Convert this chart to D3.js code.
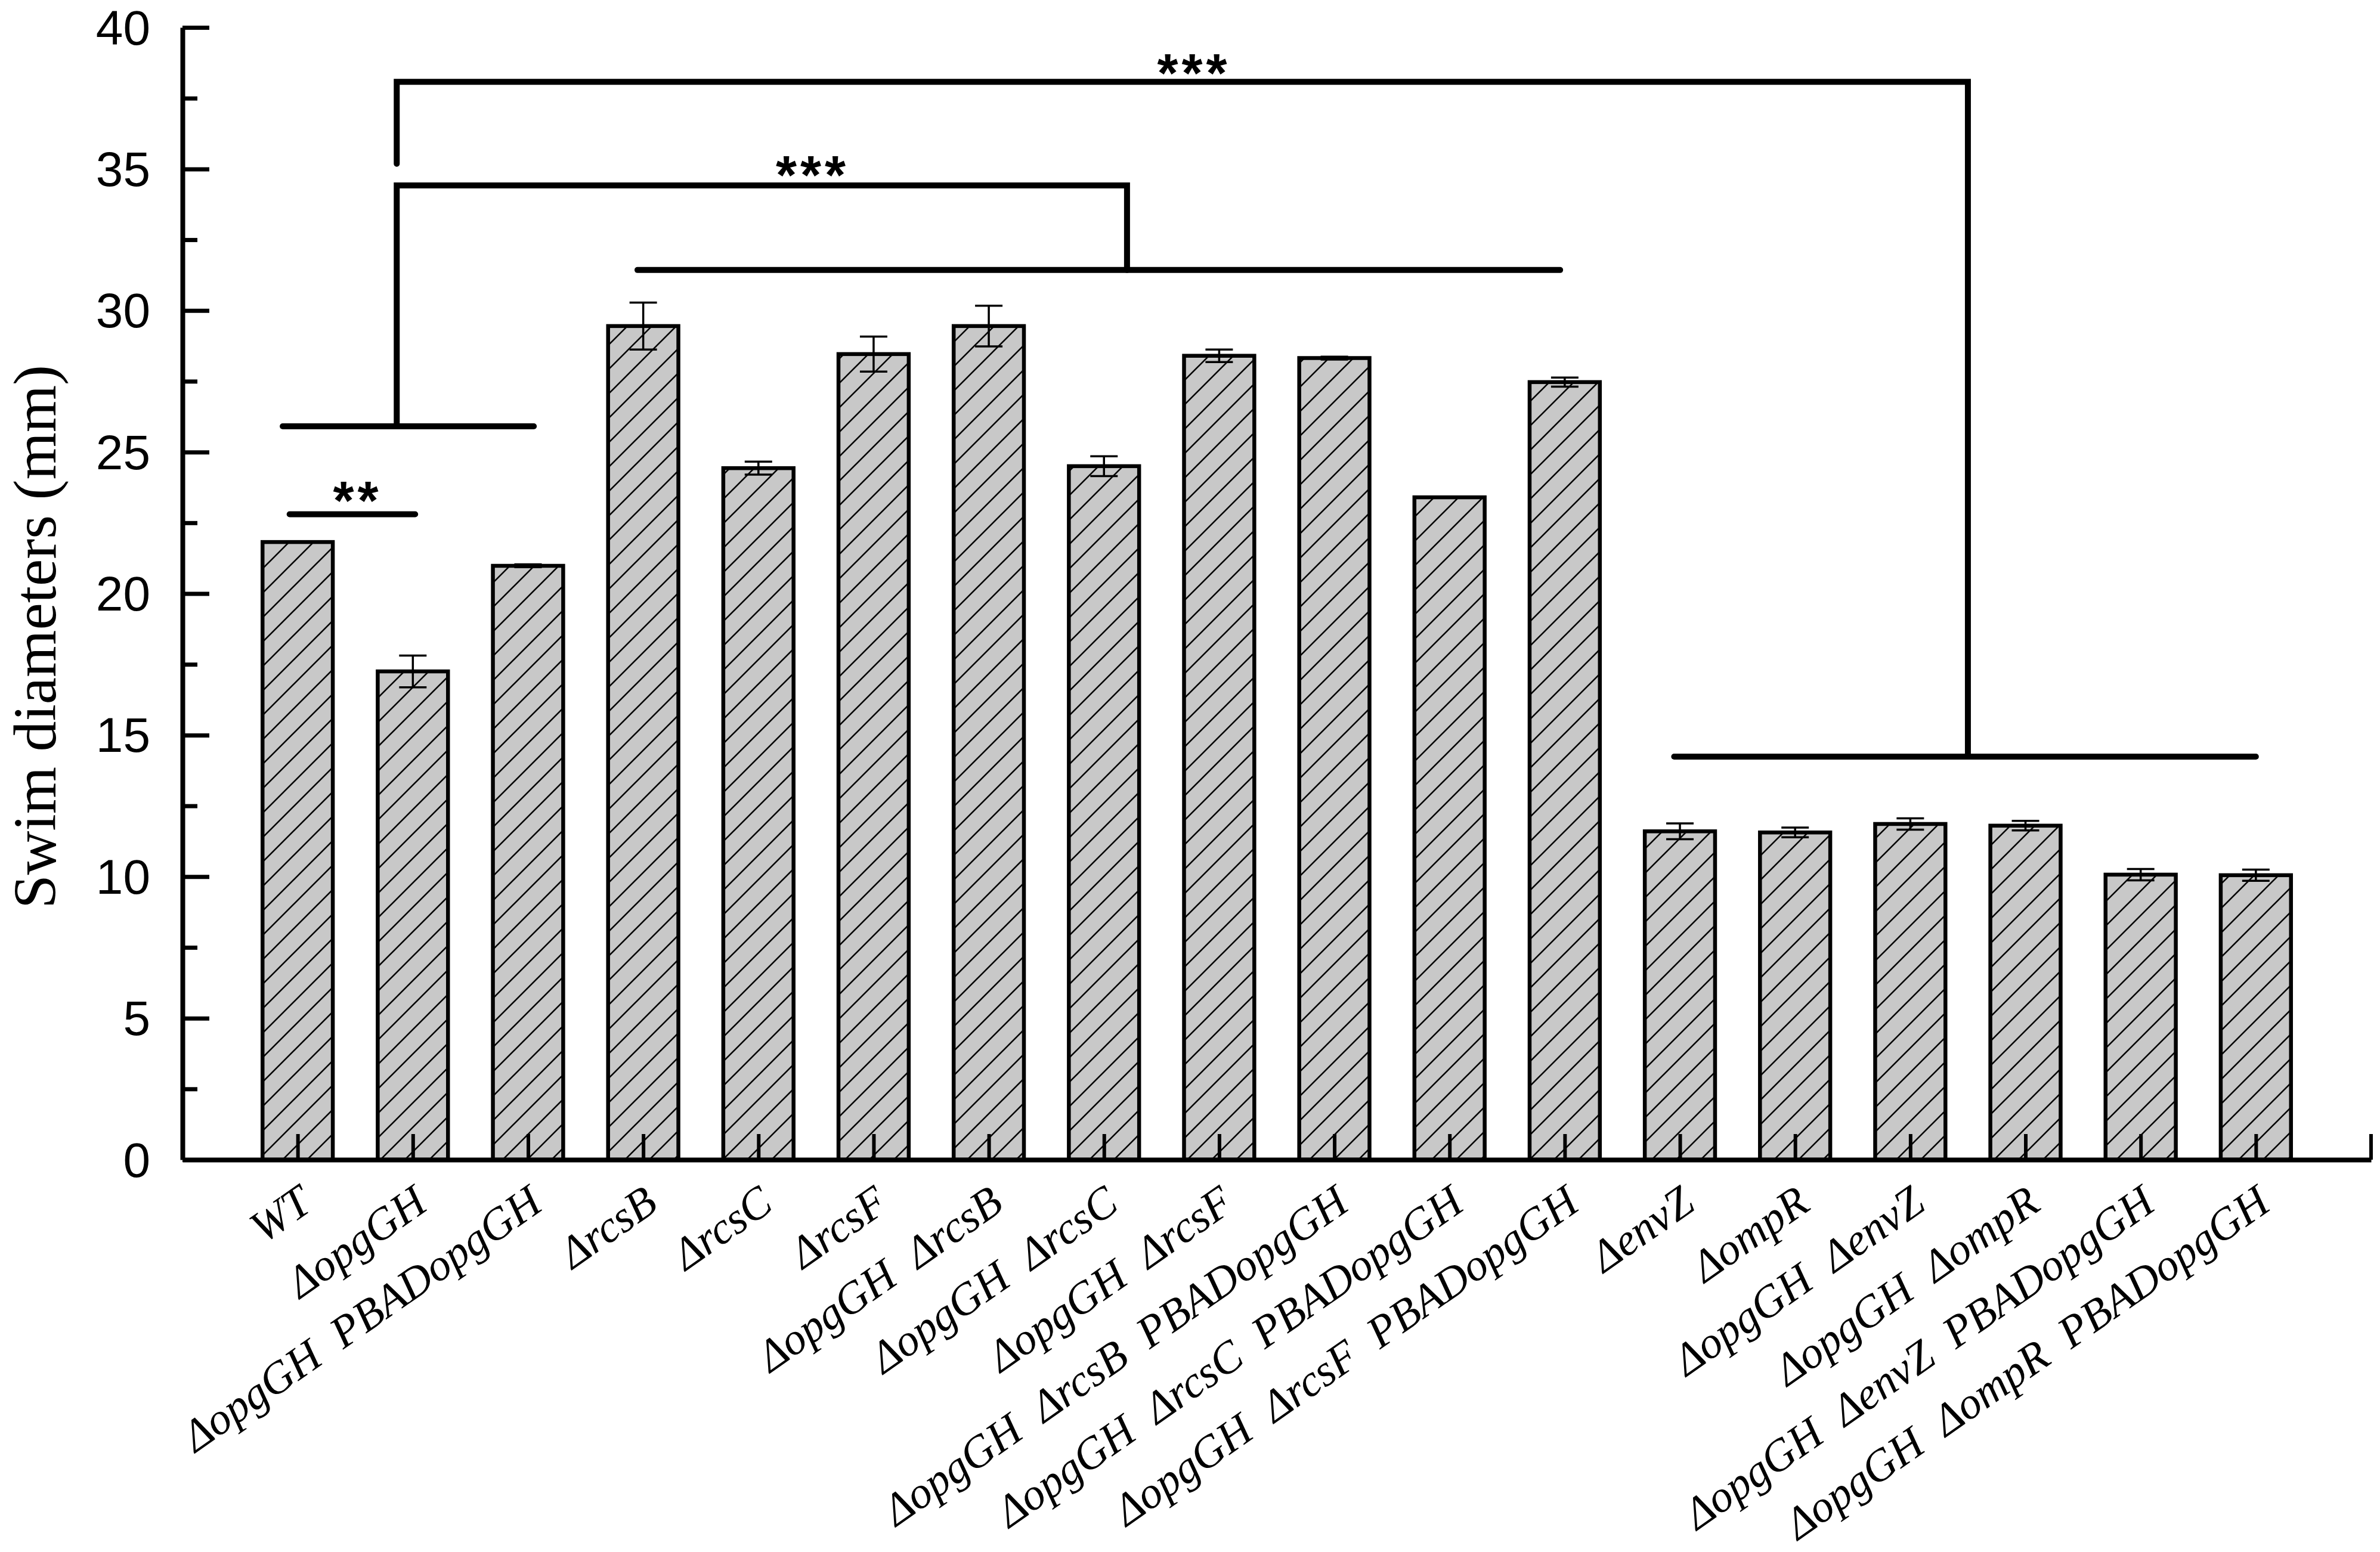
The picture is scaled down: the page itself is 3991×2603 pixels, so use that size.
<!DOCTYPE html>
<html>
<head>
<meta charset="utf-8">
<script src="https://cdn.jsdelivr.net/npm/d3@7/dist/d3.min.js"></script>
<style>
  html, body { margin: 0; padding: 0; background: #fff; }
  svg { display: block; }
</style>
</head>
<body>
<div id="chart"></div>
<script>
// strains along the x axis
var categories = [
    "WT", "ΔopgGH", "ΔopgGH  PBADopgGH",
    "ΔrcsB", "ΔrcsC", "ΔrcsF",
    "ΔopgGH  ΔrcsB", "ΔopgGH  ΔrcsC", "ΔopgGH  ΔrcsF",
    "ΔopgGH  ΔrcsB  PBADopgGH", "ΔopgGH  ΔrcsC  PBADopgGH", "ΔopgGH  ΔrcsF  PBADopgGH",
    "ΔenvZ", "ΔompR", "ΔopgGH  ΔenvZ", "ΔopgGH  ΔompR",
    "ΔopgGH  ΔenvZ  PBADopgGH", "ΔopgGH  ΔompR  PBADopgGH"
];
// swim diameters (mm)
var values = [21.82, 17.25, 20.98, 29.45, 24.43, 28.46, 29.45, 24.5, 28.4,
              28.32, 23.4, 27.47, 11.6, 11.56, 11.86, 11.8, 10.07, 10.05];
var errors = [0, 0.56, 0.05, 0.83, 0.23, 0.62, 0.72, 0.35, 0.22,
              0.05, 0, 0.16, 0.28, 0.17, 0.2, 0.17, 0.2, 0.2];
var yTicks = [0, 5, 10, 15, 20, 25, 30, 35, 40];
var yMinorTicks = [2.5, 7.5, 12.5, 17.5, 22.5, 27.5, 32.5, 37.5];

// significance brackets, x in bar-index units, y in mm
var sigLines = [
    // "**" WT vs opgGH
    [[-0.07, 22.8], [1.02, 22.8]],
    // group lines
    [[-0.13, 25.91], [2.05, 25.91]],
    [[2.95, 31.43], [10.96, 31.43]],
    [[11.95, 14.24], [17.0, 14.24]],
    // middle bracket
    [[0.86, 25.91], [0.86, 34.42], [7.2, 34.42], [7.2, 31.43]],
    // top bracket
    [[0.86, 35.18], [0.86, 38.08], [14.5, 38.08], [14.5, 14.24]]
];
var sigStars = [
    {text: "**", x: 0.52, y: 23.68},
    {text: "***", x: 4.47, y: 35.18},
    {text: "***", x: 7.78, y: 38.78}
];

var width = 3991;
var height = 2603;
var axisLeftX = 306;
var axisRightX = 3976;
var axisBottomY = 1945;
var axisTopY = 46;

var svg = d3.select("#chart").append("svg")
    .attr("width", width)
    .attr("height", height);

var defs = svg.append("defs");
var hatch = defs.append("pattern")
    .attr("id", "hatch")
    .attr("patternUnits", "userSpaceOnUse")
    .attr("width", 41)
    .attr("height", 41);
hatch.append("rect")
    .attr("width", 41).attr("height", 41)
    .attr("fill", "#c8c8c8");
hatch.append("path")
    .attr("d", "M -5 46 L 46 -5 M -5 5 L 5 -5 M 36 46 L 46 36")
    .attr("stroke", "#000")
    .attr("stroke-width", 2.6);

var x = d3.scalePoint()
    .domain(categories)
    .range([axisLeftX, axisRightX])
    .padding(1);
var xi = d3.scaleLinear()
    .domain([-1, categories.length])
    .range([axisLeftX, axisRightX]);
var y = d3.scaleLinear()
    .domain([0, 40])
    .range([axisBottomY, axisTopY]);

var barWidth = x.step() * 0.61;

// bars
svg.append("g").selectAll("rect")
    .data(values)
    .enter().append("rect")
    .attr("x", function(d, i) { return x(categories[i]) - barWidth / 2; })
    .attr("y", function(d) { return y(d); })
    .attr("width", barWidth)
    .attr("height", function(d) { return y(0) - y(d); })
    .attr("fill", "url(#hatch)")
    .attr("stroke", "#000")
    .attr("stroke-width", 6.5);

// error bars
var eb = svg.append("g")
    .attr("stroke", "#000")
    .attr("stroke-width", 3.5);
values.forEach(function(v, i) {
    var e = errors[i];
    if (e <= 0) return;
    var cx = x(categories[i]);
    eb.append("line")
        .attr("x1", cx).attr("x2", cx)
        .attr("y1", y(v - e)).attr("y2", y(v + e));
    [v - e, v + e].forEach(function(yy) {
        eb.append("line")
            .attr("x1", cx - 23).attr("x2", cx + 23)
            .attr("y1", y(yy)).attr("y2", y(yy));
    });
});

// x axis
var xAxis = svg.append("g")
    .attr("transform", "translate(0," + axisBottomY + ")")
    .call(d3.axisBottom(x).tickSizeInner(-43).tickSizeOuter(0).tickFormat(""));
xAxis.select(".domain").attr("stroke-width", 8);
xAxis.selectAll(".tick line").attr("stroke-width", 6);
svg.append("line")
    .attr("x1", axisRightX).attr("x2", axisRightX)
    .attr("y1", axisBottomY).attr("y2", axisBottomY - 43)
    .attr("stroke", "#000").attr("stroke-width", 6);

// y axis
var yAxis = svg.append("g")
    .attr("transform", "translate(" + axisLeftX + ",0)")
    .call(d3.axisLeft(y).tickValues(yTicks).tickSizeInner(-45).tickSizeOuter(0).tickPadding(54));
yAxis.select(".domain").attr("stroke-width", 8);
yAxis.selectAll(".tick line").attr("stroke-width", 7);
yAxis.selectAll(".tick text")
    .attr("font-family", "'Liberation Sans', Arial, sans-serif")
    .attr("font-size", 82)
    .attr("dy", 28)
    .attr("fill", "#000");

var yMinor = svg.append("g")
    .attr("transform", "translate(" + axisLeftX + ",0)")
    .call(d3.axisLeft(y).tickValues(yMinorTicks).tickSizeInner(-25).tickSizeOuter(0).tickFormat(""));
yMinor.select(".domain").remove();
yMinor.selectAll(".tick line").attr("stroke-width", 7);

// category labels
svg.append("g").selectAll("text")
    .data(categories)
    .enter().append("text")
    .attr("transform", function(d) {
        return "translate(" + (x(d) + 28) + "," + (axisBottomY + 82) + ") rotate(-35)";
    })
    .attr("text-anchor", "end")
    .attr("xml:space", "preserve")
    .style("white-space", "pre")
    .attr("font-family", "'Liberation Serif', 'Times New Roman', serif")
    .attr("font-style", "italic")
    .attr("font-size", 75)
    .attr("fill", "#000")
    .text(function(d) { return d; });

// y title
svg.append("text")
    .attr("transform", "translate(93,1068) rotate(-90)")
    .attr("text-anchor", "middle")
    .attr("font-family", "'Liberation Serif', 'Times New Roman', serif")
    .attr("font-size", 102)
    .attr("fill", "#000")
    .text("Swim diameters (mm)");

// significance marks
var line = d3.line()
    .x(function(p) { return xi(p[0]); })
    .y(function(p) { return y(p[1]); });
svg.append("g").selectAll("path")
    .data(sigLines)
    .enter().append("path")
    .attr("d", line)
    .attr("fill", "none")
    .attr("stroke", "#000")
    .attr("stroke-width", 10)
    .attr("stroke-linecap", "round");

svg.append("g").selectAll("text")
    .data(sigStars)
    .enter().append("text")
    .attr("x", function(d) { return xi(d.x); })
    .attr("y", function(d) { return y(d.y) + 50; })
    .attr("text-anchor", "middle")
    .attr("font-family", "'Liberation Sans', Arial, sans-serif")
    .attr("font-weight", "bold")
    .attr("font-size", 90)
    .attr("letter-spacing", 6)
    .attr("fill", "#000")
    .text(function(d) { return d.text; });
</script>
</body>
</html>
